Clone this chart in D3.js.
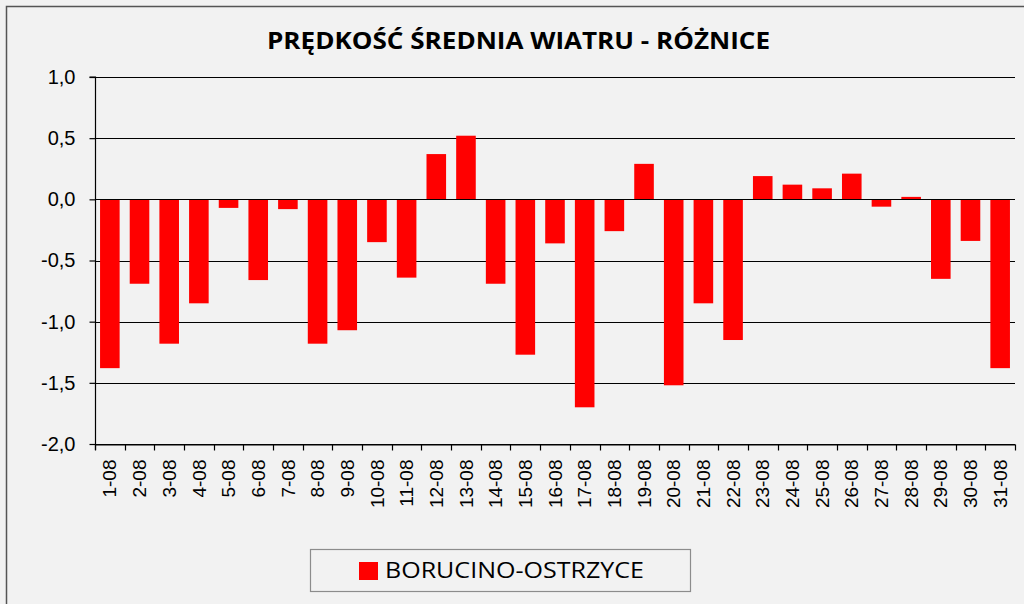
<!DOCTYPE html>
<html>
<head>
<meta charset="utf-8">
<script src="https://cdn.jsdelivr.net/npm/d3@7"></script>
<style>
    body { margin: 0; background: #f2f2f2; }
    svg { display: block; }
    .y-labels text { font-family: "Liberation Sans", Arial, sans-serif; font-size: 20px; fill: #000; }
    .x-labels text { font-family: "Liberation Sans", Arial, sans-serif; font-size: 19px; fill: #000; }
</style>
</head>
<body>
<div id="chart"></div>
<script>
// Data
const days = ["1-08", "2-08", "3-08", "4-08", "5-08", "6-08", "7-08", "8-08", "9-08", "10-08",
    "11-08", "12-08", "13-08", "14-08", "15-08", "16-08", "17-08", "18-08", "19-08", "20-08",
    "21-08", "22-08", "23-08", "24-08", "25-08", "26-08", "27-08", "28-08", "29-08", "30-08", "31-08"];

const differences = [-1.38, -0.69, -1.18, -0.85, -0.07, -0.66, -0.08, -1.18, -1.07, -0.35,
    -0.64, 0.37, 0.52, -0.69, -1.27, -0.36, -1.70, -0.26, 0.29, -1.52,
    -0.85, -1.15, 0.19, 0.12, 0.09, 0.21, -0.06, 0.02, -0.65, -0.34, -1.38];

const yTicks = [1.0, 0.5, 0.0, -0.5, -1.0, -1.5, -2.0];

const chartTitle = "PRĘDKOŚĆ ŚREDNIA WIATRU - RÓŻNICE";
const seriesName = "BORUCINO-OSTRZYCE";

const data = days.map((d, i) => ({ day: d, value: differences[i] }));

const width = 1024;
const height = 604;
const margin = { top: 77, right: 9, bottom: 160, left: 95 };
const innerWidth = width - margin.left - margin.right;
const innerHeight = height - margin.top - margin.bottom;

const svg = d3.select("#chart")
    .append("svg")
    .attr("width", width)
    .attr("height", height);

// chart area frame (only top and left edges are visible)
svg.append("path")
    .attr("d", `M6.5,${height}V6.5H${width}`)
    .attr("fill", "none")
    .attr("stroke", "#555")
    .attr("stroke-width", 1.5);

const innerChart = svg.append("g")
    .attr("transform", `translate(${margin.left}, ${margin.top})`);

const xScale = d3.scaleBand()
    .domain(days)
    .range([0, innerWidth])
    .paddingInner(0.34)
    .paddingOuter(0.17);

const yScale = d3.scaleLinear()
    .domain([-2, 1])
    .range([innerHeight, 0]);

const fmt = d => d3.format(".1f")(d).replace(".", ",").replace("−", "-");

// grid
innerChart.append("g")
    .selectAll("line")
    .data(yTicks)
    .join("line")
    .attr("x1", 0)
    .attr("x2", innerWidth)
    .attr("y1", d => Math.round(yScale(d)) + 0.5)
    .attr("y2", d => Math.round(yScale(d)) + 0.5)
    .attr("stroke", "#000")
    .attr("stroke-width", 1.2);

// bars
innerChart.append("g")
    .selectAll("rect")
    .data(data)
    .join("rect")
    .attr("x", d => xScale(d.day))
    .attr("width", xScale.bandwidth())
    .attr("y", d => yScale(Math.max(0, d.value)))
    .attr("height", d => Math.abs(yScale(d.value) - yScale(0)))
    .attr("fill", "#ff0000");

// zero line over bars
innerChart.append("line")
    .attr("x1", 0)
    .attr("x2", innerWidth)
    .attr("y1", Math.round(yScale(0)) + 0.5)
    .attr("y2", Math.round(yScale(0)) + 0.5)
    .attr("stroke", "#000")
    .attr("stroke-width", 1.2);

// y axis
const leftAxis = d3.axisLeft(yScale)
    .tickValues(yTicks)
    .tickSize(6)
    .tickPadding(14)
    .tickFormat(fmt);

const yAxisG = innerChart.append("g")
    .attr("class", "y-labels")
    .attr("transform", "translate(0.5, 0)")
    .call(leftAxis);
yAxisG.selectAll("path, line").attr("stroke", "#000").attr("stroke-width", 1.2);
yAxisG.select(".domain").attr("d", `M-6,${yScale(1)}H0V${innerHeight + 6}`);
yAxisG.selectAll("text").attr("font-family", null).attr("font-size", null);

// x axis labels
const bottomAxis = d3.axisBottom(xScale)
    .tickSize(0)
    .tickSizeOuter(0);

const xAxisG = innerChart.append("g")
    .attr("class", "x-labels")
    .attr("transform", `translate(0, ${Math.round(yScale(-2)) + 0.5})`)
    .call(bottomAxis);
xAxisG.select(".domain").attr("stroke", "#000").attr("stroke-width", 1.2);
xAxisG.selectAll("text")
    .attr("font-family", null)
    .attr("font-size", null)
    .attr("transform", "rotate(-90)")
    .attr("text-anchor", "end")
    .attr("x", -15)
    .attr("y", 0)
    .attr("dy", "0.35em");

// boundary ticks on x axis
xAxisG.append("g")
    .selectAll("line")
    .data(d3.range(days.length + 1))
    .join("line")
    .attr("x1", i => Math.round(i * xScale.step()) + 0.5)
    .attr("x2", i => Math.round(i * xScale.step()) + 0.5)
    .attr("y1", 0)
    .attr("y2", 6)
    .attr("stroke", "#000")
    .attr("stroke-width", 1.2);

// title
svg.append("text")
    .attr("x", 267)
    .attr("y", 49)
    .attr("font-family", "'Open Sans', sans-serif")
    .attr("font-weight", "bold")
    .attr("font-size", 24)
    .attr("textLength", 503)
    .attr("lengthAdjust", "spacingAndGlyphs")
    .text(chartTitle);

// legend
const legend = svg.append("g");
legend.append("rect")
    .attr("x", 310.5)
    .attr("y", 549.5)
    .attr("width", 380)
    .attr("height", 42)
    .attr("fill", "#f2f2f2")
    .attr("stroke", "#8c8c8c")
    .attr("stroke-width", 1.2);
legend.append("rect")
    .attr("x", 359)
    .attr("y", 562)
    .attr("width", 19)
    .attr("height", 18)
    .attr("fill", "#ff0000");
legend.append("text")
    .attr("x", 385)
    .attr("y", 578)
    .attr("font-family", "'Open Sans', sans-serif")
    .attr("font-size", 21)
    .attr("textLength", 259)
    .attr("lengthAdjust", "spacingAndGlyphs")
    .text(seriesName);
</script>
</body>
</html>
